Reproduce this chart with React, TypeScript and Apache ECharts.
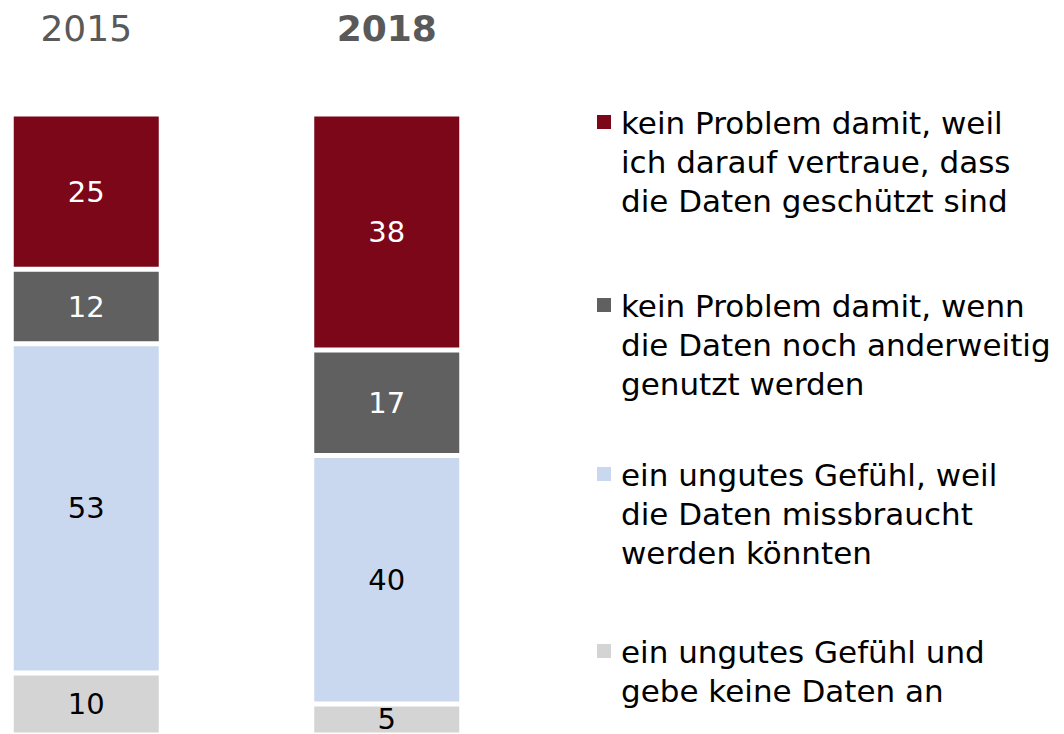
import React, { useEffect, useRef } from "react";
import * as echarts from "echarts";

const categories = ["2015", "2018"];
const problemTrust = [25, 38];
const problemOther = [12, 17];
const uneasyMisuse = [53, 40];
const uneasyNoData = [10, 5];

const legendLines1 = ["kein Problem damit, weil", "ich darauf vertraue, dass", "die Daten geschützt sind"];
const legendLines2 = ["kein Problem damit, wenn", "die Daten noch anderweitig", "genutzt werden"];
const legendLines3 = ["ein ungutes Gefühl, weil", "die Daten missbraucht", "werden könnten"];
const legendLines4 = ["ein ungutes Gefühl und", "gebe keine Daten an"];

const COLORS = ["#7B0719", "#606060", "#C9D8EE", "#D4D4D4"];
const LABEL_COLORS = ["#ffffff", "#ffffff", "#000000", "#000000"];
const FONT = "DejaVu Sans";

export default function App() {
  const ref = useRef<HTMLDivElement>(null);

  useEffect(() => {
    if (!ref.current) return;
    const chart = echarts.init(ref.current, undefined, { renderer: "svg" });

    const seriesData = [problemTrust, problemOther, uneasyMisuse, uneasyNoData];
    const legendLines = [legendLines1, legendLines2, legendLines3, legendLines4];
    const names = legendLines.map((l) => l.join(" "));

    const legendTops = [115, 298, 467, 644];
    const lineH = 39;

    const graphics: any[] = [];
    legendLines.forEach((lines, i) => {
      graphics.push({
        type: "rect",
        left: 597,
        top: legendTops[i],
        shape: { width: 14, height: 14 },
        style: { fill: COLORS[i] },
      });
      graphics.push({
        type: "text",
        x: 621,
        y: legendTops[i] + 18 - 29.5,
        style: {
          text: lines.join("\n"),
          fontFamily: FONT,
          fontSize: 31,
          lineHeight: lineH,
          fill: "#000000",
          verticalAlign: "top",
          align: "left",
        },
      });
    });

    chart.setOption({
      animation: false,
      backgroundColor: "#ffffff",
      grid: { left: -64, width: 601, top: 114, height: 621, outerBoundsMode: "none", containLabel: false },
      xAxis: {
        type: "category",
        data: categories,
        position: "top",
        axisLine: { show: false },
        axisTick: { show: false },
        axisLabel: {
          margin: 68,
          formatter: (v: string, idx: number) => (idx === 1 ? `{b|${v}}` : `{n|${v}}`),
          rich: {
            n: { fontFamily: FONT, fontSize: 36, color: "#595959" },
            b: { fontFamily: FONT, fontSize: 36, fontWeight: "bold", color: "#595959" },
          },
        },
      },
      yAxis: {
        type: "value",
        min: 0,
        max: 100,
        inverse: true,
        show: false,
        splitLine: { show: false },
      },
      series: seriesData.map((d, i) => ({
        type: "bar",
        name: names[i],
        stack: "total",
        data: d,
        barWidth: 150,
        itemStyle: { color: COLORS[i], borderColor: "#ffffff", borderWidth: 2.5 },
        label: {
          show: true,
          position: "inside",
          color: LABEL_COLORS[i],
          fontFamily: FONT,
          fontSize: 29,
        },
      })),
      graphic: graphics,
    });

    return () => chart.dispose();
  }, []);

  return (
    <div
      ref={ref}
      style={{ position: "absolute", left: 0, top: 0, width: 1064, height: 734 }}
    />
  );
}
